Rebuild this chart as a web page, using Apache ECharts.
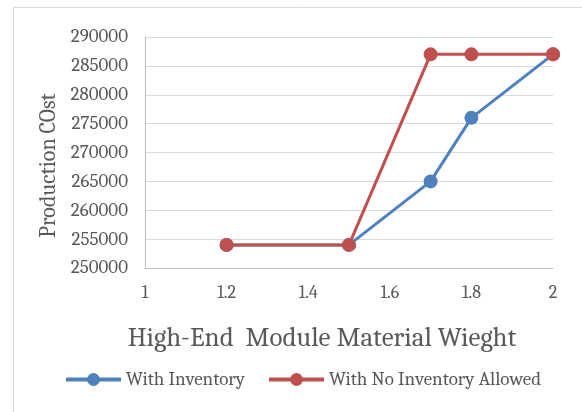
<!DOCTYPE html>
<html>
<head>
<meta charset="utf-8">
<script src="https://cdn.jsdelivr.net/npm/echarts@6/dist/echarts.min.js"></script>
<style>
  html, body { margin: 0; padding: 0; background: #fff; }
  #chart { width: 582px; height: 412px; }
</style>
</head>
<body>
<div id="chart"></div>
<script>
// Material weight values (x) and production cost for each scenario
const weights = [1.2, 1.5, 1.7, 1.8, 2];
const withInventory = [254000, 254000, 265000, 276000, 287000];
const noInventory = [254000, 254000, 287000, 287000, 287000];
const seriesNames = ['With Inventory', 'With No Inventory Allowed'];
const seriesColors = ['#4F81BD', '#C0504D'];

const font = 'Cambria, "Liberation Serif", "DejaVu Serif", serif';

function pairs(xs, ys) {
  return xs.map((x, i) => [x, ys[i]]);
}

const chart = echarts.init(document.getElementById('chart'), null, { renderer: 'canvas' });

chart.setOption({
  backgroundColor: '#fff',
  animation: false,
  textStyle: { fontFamily: font, color: '#595959' },
  graphic: [{
    type: 'rect',
    shape: { x: 13.5, y: 7.5, width: 600, height: 500 },
    style: { fill: 'none', stroke: '#d9d9d9', lineWidth: 1 },
    silent: true
  }],
  grid: { left: 145, right: 29, top: 37, bottom: 144, containLabel: false },
  xAxis: {
    type: 'value',
    min: 1, max: 2, interval: 0.2,
    name: 'High-End  Module Material Wieght',
    nameLocation: 'middle',
    nameGap: 57,
    nameTextStyle: { fontFamily: font, fontSize: 27, color: '#595959', padding: [0, 54, 0, 0] },
    axisLine: { show: true, lineStyle: { color: '#bfbfbf', width: 1 } },
    axisTick: { show: false },
    splitLine: { show: false },
    axisLabel: { fontFamily: font, fontSize: 18, color: '#595959', margin: 16,
      formatter: v => String(Math.round(v * 10) / 10) }
  },
  yAxis: {
    type: 'value',
    min: 250000, max: 290000, interval: 5000,
    name: 'Production COst',
    nameLocation: 'middle',
    nameGap: 85,
    nameTextStyle: { fontFamily: font, fontSize: 22, color: '#595959', padding: [0, 26, 0, 0] },
    axisLine: { show: true, lineStyle: { color: '#bfbfbf', width: 1 } },
    axisTick: { show: false },
    splitLine: { show: true, lineStyle: { color: '#d9d9d9', width: 1 } },
    axisLabel: { fontFamily: font, fontSize: 19, color: '#595959', margin: 17,
      formatter: v => String(v) }
  },
  legend: {
    top: 365,
    left: 59,
    itemWidth: 55,
    itemHeight: 16,
    itemGap: 22,
    lineStyle: { width: 4 },
    textStyle: { fontFamily: font, fontSize: 19, color: '#595959' },
    data: seriesNames
  },
  series: [
    {
      name: seriesNames[0],
      type: 'line',
      data: pairs(weights, withInventory),
      symbol: 'circle',
      symbolSize: 14,
      lineStyle: { width: 3, color: seriesColors[0] },
      itemStyle: { color: seriesColors[0] },
      z: 2
    },
    {
      name: seriesNames[1],
      type: 'line',
      data: pairs(weights, noInventory),
      symbol: 'circle',
      symbolSize: 14,
      lineStyle: { width: 3, color: seriesColors[1] },
      itemStyle: { color: seriesColors[1] },
      z: 3
    }
  ]
});
</script>
</body>
</html>
